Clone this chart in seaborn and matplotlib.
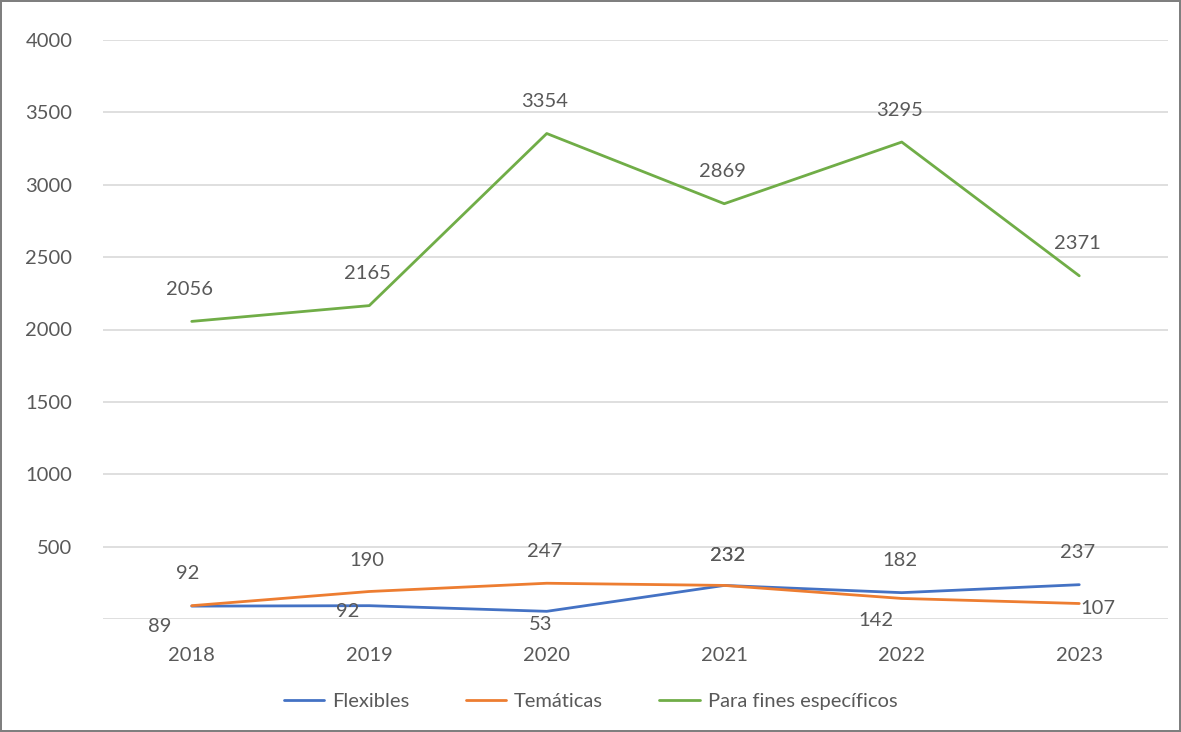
import numpy as np
import pandas as pd
import seaborn as sns
import matplotlib.pyplot as plt

# values
years = ["2018", "2019", "2020", "2021", "2022", "2023"]
flexibles = [89, 92, 53, 232, 182, 237]
tematicas = [92, 190, 247, 232, 142, 107]
fines = [2056, 2165, 3354, 2869, 3295, 2371]
series_names = ["Flexibles", "Temáticas", "Para fines específicos"]
y_ticks = [500, 1000, 1500, 2000, 2500, 3000, 3500, 4000]

# where each data label sits relative to its point (pixels)
label_offsets = {
    "Flexibles": [(-32, -20), (-22, -6), (-6, -13), (3, 30), (-2, 32), (-2, 32)],
    "Temáticas": [(-4, 32), (-2, 31), (-2, 32), (3, 30), (-26, -22), (19, -5)],
    "Para fines específicos": [(-2, 32)] * 6,
}

colors = ["#4472C4", "#ED7D31", "#70AD47"]
TXT = "#595959"

sns.set_theme(style="white")
plt.rcParams["font.family"] = ["Lato", "DejaVu Sans"]

df = pd.DataFrame({
    "year": years * 3,
    "value": flexibles + tematicas + fines,
    "serie": [s for s in series_names for _ in years],
})

fig = plt.figure(figsize=(11.81, 7.32), dpi=100)
fig.patch.set_edgecolor("#7F7F7F")
fig.patch.set_linewidth(1.5)
ax = fig.add_axes([103 / 1181, 1 - 619 / 732, (1168 - 103) / 1181, (619 - 40) / 732])

sns.lineplot(data=df, x="year", y="value", hue="serie", palette=colors,
             linewidth=2, ax=ax, sort=False, legend=True)

ax.set_xlim(-0.5, 5.5)
ax.set_ylim(0, 4000)
ax.set_yticks([0] + y_ticks)
ax.set_yticklabels([""] + [str(t) for t in y_ticks])
ax.yaxis.grid(True, color="#D9D9D9", linewidth=1.2)
ax.set_axisbelow(True)
for s in ax.spines.values():
    s.set_visible(False)
ax.tick_params(axis="both", length=0, labelsize=14.5, colors=TXT)
ax.tick_params(axis="y", pad=22)
ax.tick_params(axis="x", pad=20)
ax.set_xlabel("")
ax.set_ylabel("")

for name, vals in zip(series_names, [flexibles, tematicas, fines]):
    for i, v in enumerate(vals):
        dx, dy = label_offsets[name][i]
        ax.annotate(str(v), (i, v), xytext=(dx, dy), textcoords="offset pixels",
                    ha="center", va="center", fontsize=14.5, color=TXT)

handles, labels = ax.get_legend_handles_labels()
ax.legend(handles, labels, loc="center", bbox_to_anchor=(0.5, (732 - 701) / 732),
          bbox_transform=fig.transFigure, ncol=3, frameon=False, fontsize=14.5,
          handlelength=2.0, columnspacing=2.8, handletextpad=0.4, labelcolor=TXT)

fig.savefig("out.png", dpi=100, edgecolor=fig.get_edgecolor())
